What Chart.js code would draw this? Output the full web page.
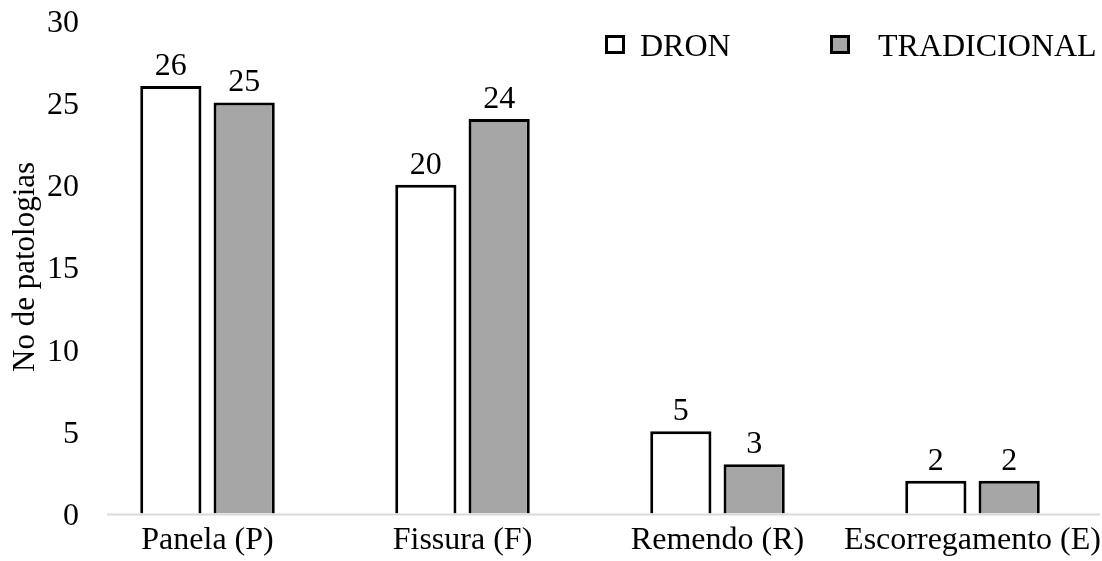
<!DOCTYPE html>
<html><head><meta charset="utf-8">
<script src="https://cdn.jsdelivr.net/npm/chart.js@4/dist/chart.umd.min.js"></script>
<style>html,body{margin:0;padding:0;background:#fff;overflow:hidden;} canvas{display:block;}</style>
</head><body><canvas id="c" width="1102" height="561"></canvas>
<script>
const categories = ['Panela (P)', 'Fissura (F)', 'Remendo (R)', 'Escorregamento (E)'];
const dronValues = [26, 20, 5, 2];
const tradicionalValues = [25, 24, 3, 2];
const seriesNames = ['DRON', 'TRADICIONAL'];
const yTickValues = [0, 5, 10, 15, 20, 25, 30];
const yTitle = 'No de patologias';

const FONT = '"Liberation Serif", "Times New Roman", serif';
const FS = 32;

const valueLabels = {
  id: 'valueLabels',
  afterDatasetsDraw(chart) {
    const ctx = chart.ctx;
    ctx.save();
    ctx.font = FS + 'px ' + FONT;
    ctx.fillStyle = '#000';
    ctx.textAlign = 'center';
    ctx.textBaseline = 'alphabetic';
    chart.data.datasets.forEach((ds, i) => {
      chart.getDatasetMeta(i).data.forEach((bar, j) => {
        ctx.fillText(String(ds.data[j]), bar.x, bar.y - 11);
      });
    });
    ctx.restore();
  }
};

const axisLine = {
  id: 'axisLine',
  beforeDatasetsDraw(chart) {
    const ctx = chart.ctx, a = chart.chartArea;
    const y0 = chart.scales.y.getPixelForValue(0);
    ctx.save();
    ctx.strokeStyle = '#d9d9d9';
    ctx.lineWidth = 2;
    ctx.beginPath();
    ctx.moveTo(a.left + 27, y0 + 1);
    ctx.lineTo(a.right, y0 + 1);
    ctx.stroke();
    ctx.restore();
  }
};

const customLegend = {
  id: 'customLegend',
  afterDraw(chart) {
    const ctx = chart.ctx, a = chart.chartArea;
    const items = [
      {box: a.right - 495, text: a.right - 460},
      {box: a.right - 270, text: a.right - 222}
    ];
    ctx.save();
    chart.data.datasets.forEach((ds, i) => {
      const it = items[i];
      ctx.fillStyle = ds.backgroundColor;
      ctx.fillRect(it.box, 35, 20, 19);
      ctx.strokeStyle = '#000';
      ctx.lineWidth = 3;
      ctx.strokeRect(it.box + 1.5, 36.5, 17, 16);
      ctx.fillStyle = '#000';
      ctx.font = FS + 'px ' + FONT;
      ctx.textAlign = 'left';
      ctx.textBaseline = 'alphabetic';
      ctx.fillText(ds.label, it.text, 56);
    });
    ctx.restore();
  }
};

new Chart(document.getElementById('c'), {
  type: 'bar',
  data: {
    labels: categories,
    datasets: [
      {label: seriesNames[0], data: dronValues, backgroundColor: '#ffffff', borderColor: '#000000', borderWidth: 3},
      {label: seriesNames[1], data: tradicionalValues, backgroundColor: '#a6a6a6', borderColor: '#000000', borderWidth: 3}
    ]
  },
  options: {
    responsive: false,
    animation: false,
    devicePixelRatio: 1,
    layout: {padding: {top: 12, right: 2, bottom: -7, left: 0}},
    datasets: {bar: {categoryPercentage: 0.575, barPercentage: 0.835}},
    plugins: {legend: {display: false}, tooltip: {enabled: false}},
    scales: {
      x: {
        afterFit(scale) { scale.paddingLeft = 0; scale.paddingRight = 0; },
        grid: {display: false, drawTicks: false},
        border: {display: false},
        ticks: {color: '#000', font: {family: FONT, size: FS}, padding: 8, maxRotation: 0, autoSkip: false}
      },
      y: {
        min: 0, max: 30,
        afterFit(scale) { scale.width = 80; },
        afterBuildTicks(scale) { scale.ticks = yTickValues.map(v => ({value: v})); },
        grid: {display: false, drawTicks: false},
        border: {display: false},
        ticks: {color: '#000', font: {family: FONT, size: FS}, padding: 1, labelOffset: 3},
        title: {display: true, text: yTitle, color: '#000', font: {family: FONT, size: 31}, padding: {top: 7, bottom: 0}}
      }
    }
  },
  plugins: [axisLine, valueLabels, customLegend]
});
</script>
</body></html>
